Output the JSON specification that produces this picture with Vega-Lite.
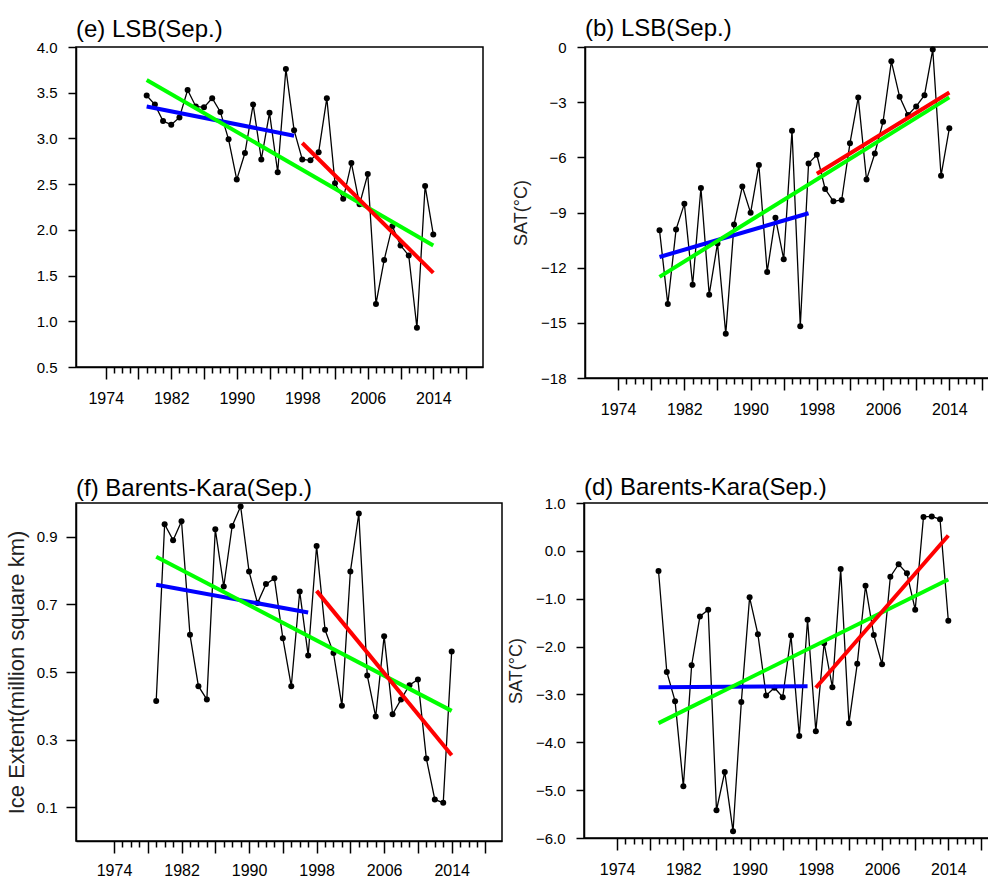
{
  "$schema": "https://vega.github.io/schema/vega-lite/v6.json",
  "background": "white",
  "padding": {"left": 4, "top": 16, "right": 0, "bottom": 0},
  "config": {
    "font": "Liberation Sans",
    "view": {"stroke": "black", "strokeWidth": 1.5},
    "axis": {"domainColor": "black", "domainWidth": 1.5, "tickColor": "black", "tickWidth": 1.5, "labelColor": "black", "labelFontSize": 15, "labelFont": "Liberation Sans", "grid": false, "titleFont": "Liberation Sans", "titleFontWeight": "normal", "titleColor": "#222222"},
    "axisX": {"labelFontSize": 16},
    "title": {"anchor": "start", "frame": "group", "fontSize": 24, "fontWeight": "normal", "color": "black", "baseline": "bottom", "font": "Liberation Sans"}
  },
  "datasets": {
    "series": [
      {"p":"e","year":1979,"v":3.47},{"p":"e","year":1980,"v":3.37},{"p":"e","year":1981,"v":3.19},{"p":"e","year":1982,"v":3.15},{"p":"e","year":1983,"v":3.23},{"p":"e","year":1984,"v":3.53},{"p":"e","year":1985,"v":3.35},{"p":"e","year":1986,"v":3.34},{"p":"e","year":1987,"v":3.44},{"p":"e","year":1988,"v":3.29},{"p":"e","year":1989,"v":2.99},{"p":"e","year":1990,"v":2.55},{"p":"e","year":1991,"v":2.84},{"p":"e","year":1992,"v":3.37},{"p":"e","year":1993,"v":2.77},{"p":"e","year":1994,"v":3.28},{"p":"e","year":1995,"v":2.63},{"p":"e","year":1996,"v":3.76},{"p":"e","year":1997,"v":3.09},{"p":"e","year":1998,"v":2.77},{"p":"e","year":1999,"v":2.76},{"p":"e","year":2000,"v":2.85},{"p":"e","year":2001,"v":3.44},{"p":"e","year":2002,"v":2.51},{"p":"e","year":2003,"v":2.34},{"p":"e","year":2004,"v":2.73},{"p":"e","year":2005,"v":2.28},{"p":"e","year":2006,"v":2.61},{"p":"e","year":2007,"v":1.19},{"p":"e","year":2008,"v":1.67},{"p":"e","year":2009,"v":2.04},{"p":"e","year":2010,"v":1.83},{"p":"e","year":2011,"v":1.72},{"p":"e","year":2012,"v":0.93},{"p":"e","year":2013,"v":2.48},{"p":"e","year":2014,"v":1.95},
      {"p":"b","year":1979,"v":-9.97},{"p":"b","year":1980,"v":-13.98},{"p":"b","year":1981,"v":-9.92},{"p":"b","year":1982,"v":-8.53},{"p":"b","year":1983,"v":-12.93},{"p":"b","year":1984,"v":-7.67},{"p":"b","year":1985,"v":-13.47},{"p":"b","year":1986,"v":-10.68},{"p":"b","year":1987,"v":-15.6},{"p":"b","year":1988,"v":-9.65},{"p":"b","year":1989,"v":-7.59},{"p":"b","year":1990,"v":-9.02},{"p":"b","year":1991,"v":-6.42},{"p":"b","year":1992,"v":-12.23},{"p":"b","year":1993,"v":-9.29},{"p":"b","year":1994,"v":-11.54},{"p":"b","year":1995,"v":-4.55},{"p":"b","year":1996,"v":-15.19},{"p":"b","year":1997,"v":-6.33},{"p":"b","year":1998,"v":-5.86},{"p":"b","year":1999,"v":-7.72},{"p":"b","year":2000,"v":-8.39},{"p":"b","year":2001,"v":-8.32},{"p":"b","year":2002,"v":-5.23},{"p":"b","year":2003,"v":-2.74},{"p":"b","year":2004,"v":-7.21},{"p":"b","year":2005,"v":-5.79},{"p":"b","year":2006,"v":-4.06},{"p":"b","year":2007,"v":-0.78},{"p":"b","year":2008,"v":-2.71},{"p":"b","year":2009,"v":-3.7},{"p":"b","year":2010,"v":-3.23},{"p":"b","year":2011,"v":-2.62},{"p":"b","year":2012,"v":-0.14},{"p":"b","year":2013,"v":-7.0},{"p":"b","year":2014,"v":-4.42},
      {"p":"f","year":1979,"v":0.414},{"p":"f","year":1980,"v":0.937},{"p":"f","year":1981,"v":0.89},{"p":"f","year":1982,"v":0.946},{"p":"f","year":1983,"v":0.61},{"p":"f","year":1984,"v":0.458},{"p":"f","year":1985,"v":0.419},{"p":"f","year":1986,"v":0.922},{"p":"f","year":1987,"v":0.753},{"p":"f","year":1988,"v":0.932},{"p":"f","year":1989,"v":0.99},{"p":"f","year":1990,"v":0.797},{"p":"f","year":1991,"v":0.704},{"p":"f","year":1992,"v":0.76},{"p":"f","year":1993,"v":0.777},{"p":"f","year":1994,"v":0.6},{"p":"f","year":1995,"v":0.458},{"p":"f","year":1996,"v":0.738},{"p":"f","year":1997,"v":0.549},{"p":"f","year":1998,"v":0.873},{"p":"f","year":1999,"v":0.625},{"p":"f","year":2000,"v":0.556},{"p":"f","year":2001,"v":0.4},{"p":"f","year":2002,"v":0.797},{"p":"f","year":2003,"v":0.969},{"p":"f","year":2004,"v":0.49},{"p":"f","year":2005,"v":0.368},{"p":"f","year":2006,"v":0.606},{"p":"f","year":2007,"v":0.375},{"p":"f","year":2008,"v":0.419},{"p":"f","year":2009,"v":0.461},{"p":"f","year":2010,"v":0.478},{"p":"f","year":2011,"v":0.244},{"p":"f","year":2012,"v":0.123},{"p":"f","year":2013,"v":0.113},{"p":"f","year":2014,"v":0.561},
      {"p":"d","year":1979,"v":-0.42},{"p":"d","year":1980,"v":-2.53},{"p":"d","year":1981,"v":-3.14},{"p":"d","year":1982,"v":-4.92},{"p":"d","year":1983,"v":-2.39},{"p":"d","year":1984,"v":-1.37},{"p":"d","year":1985,"v":-1.23},{"p":"d","year":1986,"v":-5.42},{"p":"d","year":1987,"v":-4.62},{"p":"d","year":1988,"v":-5.86},{"p":"d","year":1989,"v":-3.16},{"p":"d","year":1990,"v":-0.97},{"p":"d","year":1991,"v":-1.74},{"p":"d","year":1992,"v":-3.02},{"p":"d","year":1993,"v":-2.86},{"p":"d","year":1994,"v":-3.06},{"p":"d","year":1995,"v":-1.77},{"p":"d","year":1996,"v":-3.87},{"p":"d","year":1997,"v":-1.44},{"p":"d","year":1998,"v":-3.77},{"p":"d","year":1999,"v":-1.93},{"p":"d","year":2000,"v":-2.85},{"p":"d","year":2001,"v":-0.38},{"p":"d","year":2002,"v":-3.6},{"p":"d","year":2003,"v":-2.36},{"p":"d","year":2004,"v":-0.73},{"p":"d","year":2005,"v":-1.76},{"p":"d","year":2006,"v":-2.37},{"p":"d","year":2007,"v":-0.54},{"p":"d","year":2008,"v":-0.28},{"p":"d","year":2009,"v":-0.47},{"p":"d","year":2010,"v":-1.23},{"p":"d","year":2011,"v":0.71},{"p":"d","year":2012,"v":0.72},{"p":"d","year":2013,"v":0.66},{"p":"d","year":2014,"v":-1.46}
    ],
    "trends": [
      {"p":"e","seg":"1979-1997","year":1979,"v":3.35},{"p":"e","seg":"1979-1997","year":1997,"v":3.03},
      {"p":"e","seg":"1979-2014","year":1979,"v":3.64},{"p":"e","seg":"1979-2014","year":2014,"v":1.83},
      {"p":"e","seg":"1998-2014","year":1998,"v":2.95},{"p":"e","seg":"1998-2014","year":2014,"v":1.53},
      {"p":"b","seg":"1979-1997","year":1979,"v":-11.42},{"p":"b","seg":"1979-1997","year":1997,"v":-9.04},
      {"p":"b","seg":"1979-2014","year":1979,"v":-12.5},{"p":"b","seg":"1979-2014","year":2014,"v":-2.74},
      {"p":"b","seg":"1998-2014","year":1998,"v":-6.89},{"p":"b","seg":"1998-2014","year":2014,"v":-2.47},
      {"p":"f","seg":"1979-1997","year":1979,"v":0.758},{"p":"f","seg":"1979-1997","year":1997,"v":0.676},
      {"p":"f","seg":"1979-2014","year":1979,"v":0.841},{"p":"f","seg":"1979-2014","year":2014,"v":0.385},
      {"p":"f","seg":"1998-2014","year":1998,"v":0.74},{"p":"f","seg":"1998-2014","year":2014,"v":0.254},
      {"p":"d","seg":"1979-1997","year":1979,"v":-2.85},{"p":"d","seg":"1979-1997","year":1997,"v":-2.83},
      {"p":"d","seg":"1979-2014","year":1979,"v":-3.6},{"p":"d","seg":"1979-2014","year":2014,"v":-0.6},
      {"p":"d","seg":"1998-2014","year":1998,"v":-2.86},{"p":"d","seg":"1998-2014","year":2014,"v":0.32}
    ]
  },
  "columns": 1,
  "align": "none",
  "spacing": {"row": 57, "column": 0},
  "concat": [
    {
      "columns": 2,
      "align": "none",
      "spacing": {"row": 0, "column": 27},
      "concat": [
        {
          "title": {"text": "(e) LSB(Sep.)", "offset": -2},
          "width": 407, "height": 320,
          "data": {"name": "series"},
          "encoding": {
            "x": {"field": "year", "type": "quantitative", "scale": {"domain": [1970.37, 2020.07], "nice": false, "zero": false},
              "axis": {"title": null, "values": [1974,1975,1976,1977,1978,1979,1980,1981,1982,1983,1984,1985,1986,1987,1988,1989,1990,1991,1992,1993,1994,1995,1996,1997,1998,1999,2000,2001,2002,2003,2004,2005,2006,2007,2008,2009,2010,2011,2012,2013,2014,2015,2016,2017,2018],
                "format": "d", "labelExpr": "datum.value % 8 == 6 ? datum.label : ''", "tickSize": {"condition": {"test": "datum.value % 4 == 2", "value": 12}, "value": 6}, "labelPadding": 11, "labelOverlap": false, "labelFlush": false}},
            "y": {"field": "v", "type": "quantitative", "scale": {"domain": [0.5, 4.0], "nice": false, "zero": false},
              "axis": {"title": null, "values": [0.5,1,1.5,2,2.5,3,3.5,4], "format": ".1f", "tickSize": 8, "labelPadding": 11}}
          },
          "layer": [
            {"transform": [{"filter": "datum.p == 'e'"}], "mark": {"type": "line", "color": "black", "strokeWidth": 1.3}},
            {"transform": [{"filter": "datum.p == 'e'"}], "mark": {"type": "point", "filled": true, "color": "black", "size": 36, "opacity": 1}},
            {"data": {"name": "trends"}, "transform": [{"filter": "datum.p == 'e'"}], "mark": {"type": "line", "strokeWidth": 4},
              "encoding": {"color": {"field": "seg", "type": "nominal", "scale": {"domain": ["1979-1997", "1979-2014", "1998-2014"], "range": ["#0000ff", "#00ff00", "#ff0000"]}, "legend": null}}}
          ]
        },
        {
          "title": {"text": "(b) LSB(Sep.)", "offset": -1},
          "width": 414, "height": 331,
          "data": {"name": "series"},
          "encoding": {
            "x": {"field": "year", "type": "quantitative", "scale": {"domain": [1970, 2020], "nice": false, "zero": false},
              "axis": {"title": null, "values": [1974,1975,1976,1977,1978,1979,1980,1981,1982,1983,1984,1985,1986,1987,1988,1989,1990,1991,1992,1993,1994,1995,1996,1997,1998,1999,2000,2001,2002,2003,2004,2005,2006,2007,2008,2009,2010,2011,2012,2013,2014,2015,2016,2017,2018],
                "format": "d", "labelExpr": "datum.value % 8 == 6 ? datum.label : ''", "tickSize": {"condition": {"test": "datum.value % 4 == 2", "value": 12}, "value": 6}, "labelPadding": 11, "labelOverlap": false, "labelFlush": false}},
            "y": {"field": "v", "type": "quantitative", "scale": {"domain": [-18, 0], "nice": false, "zero": false},
              "axis": {"title": "SAT(°C)", "titleFontSize": 18, "titlePadding": 10, "values": [-18,-15,-12,-9,-6,-3,0], "format": "d", "tickSize": 8, "labelPadding": 11}}
          },
          "layer": [
            {"transform": [{"filter": "datum.p == 'b'"}], "mark": {"type": "line", "color": "black", "strokeWidth": 1.3}},
            {"transform": [{"filter": "datum.p == 'b'"}], "mark": {"type": "point", "filled": true, "color": "black", "size": 36, "opacity": 1}},
            {"data": {"name": "trends"}, "transform": [{"filter": "datum.p == 'b'"}], "mark": {"type": "line", "strokeWidth": 4},
              "encoding": {"color": {"field": "seg", "type": "nominal", "scale": {"domain": ["1979-1997", "1979-2014", "1998-2014"], "range": ["#0000ff", "#00ff00", "#ff0000"]}, "legend": null}}}
          ]
        }
      ]
    },
    {
      "columns": 2,
      "align": "none",
      "spacing": {"row": 0, "column": 3},
      "concat": [
        {
          "title": {"text": "(f) Barents-Kara(Sep.)", "offset": 2},
          "width": 426, "height": 338,
          "data": {"name": "series"},
          "encoding": {
            "x": {"field": "year", "type": "quantitative", "scale": {"domain": [1969.5, 2019.96], "nice": false, "zero": false},
              "axis": {"title": null, "values": [1974,1975,1976,1977,1978,1979,1980,1981,1982,1983,1984,1985,1986,1987,1988,1989,1990,1991,1992,1993,1994,1995,1996,1997,1998,1999,2000,2001,2002,2003,2004,2005,2006,2007,2008,2009,2010,2011,2012,2013,2014,2015,2016,2017,2018],
                "format": "d", "labelExpr": "datum.value % 8 == 6 ? datum.label : ''", "tickSize": {"condition": {"test": "datum.value % 4 == 2", "value": 12}, "value": 6}, "labelPadding": 9, "labelOverlap": false, "labelFlush": false}},
            "y": {"field": "v", "type": "quantitative", "scale": {"domain": [0, 1.0], "nice": false, "zero": false},
              "axis": {"title": "Ice Extent(million square km)", "titleFontSize": 22, "titlePadding": 8, "values": [0.1,0.3,0.5,0.7,0.9], "format": ".1f", "tickSize": 10, "labelPadding": 9}}
          },
          "layer": [
            {"transform": [{"filter": "datum.p == 'f'"}], "mark": {"type": "line", "color": "black", "strokeWidth": 1.3}},
            {"transform": [{"filter": "datum.p == 'f'"}], "mark": {"type": "point", "filled": true, "color": "black", "size": 36, "opacity": 1}},
            {"data": {"name": "trends"}, "transform": [{"filter": "datum.p == 'f'"}], "mark": {"type": "line", "strokeWidth": 4},
              "encoding": {"color": {"field": "seg", "type": "nominal", "scale": {"domain": ["1979-1997", "1979-2014", "1998-2014"], "range": ["#0000ff", "#00ff00", "#ff0000"]}, "legend": null}}}
          ]
        },
        {
          "title": {"text": "(d) Barents-Kara(Sep.)", "offset": -4},
          "width": 414, "height": 335,
          "data": {"name": "series"},
          "encoding": {
            "x": {"field": "year", "type": "quantitative", "scale": {"domain": [1970, 2020], "nice": false, "zero": false},
              "axis": {"title": null, "values": [1974,1975,1976,1977,1978,1979,1980,1981,1982,1983,1984,1985,1986,1987,1988,1989,1990,1991,1992,1993,1994,1995,1996,1997,1998,1999,2000,2001,2002,2003,2004,2005,2006,2007,2008,2009,2010,2011,2012,2013,2014,2015,2016,2017,2018],
                "format": "d", "labelExpr": "datum.value % 8 == 6 ? datum.label : ''", "tickSize": {"condition": {"test": "datum.value % 4 == 2", "value": 12}, "value": 6}, "labelPadding": 11, "labelOverlap": false, "labelFlush": false}},
            "y": {"field": "v", "type": "quantitative", "scale": {"domain": [-6, 1], "nice": false, "zero": false},
              "axis": {"title": "SAT(°C)", "titleFontSize": 18, "titlePadding": 10, "values": [-6,-5,-4,-3,-2,-1,0,1], "format": ".1f", "tickSize": 8, "labelPadding": 11}}
          },
          "layer": [
            {"transform": [{"filter": "datum.p == 'd'"}], "mark": {"type": "line", "color": "black", "strokeWidth": 1.3}},
            {"transform": [{"filter": "datum.p == 'd'"}], "mark": {"type": "point", "filled": true, "color": "black", "size": 36, "opacity": 1}},
            {"data": {"name": "trends"}, "transform": [{"filter": "datum.p == 'd'"}], "mark": {"type": "line", "strokeWidth": 4},
              "encoding": {"color": {"field": "seg", "type": "nominal", "scale": {"domain": ["1979-1997", "1979-2014", "1998-2014"], "range": ["#0000ff", "#00ff00", "#ff0000"]}, "legend": null}}}
          ]
        }
      ]
    }
  ]
}
